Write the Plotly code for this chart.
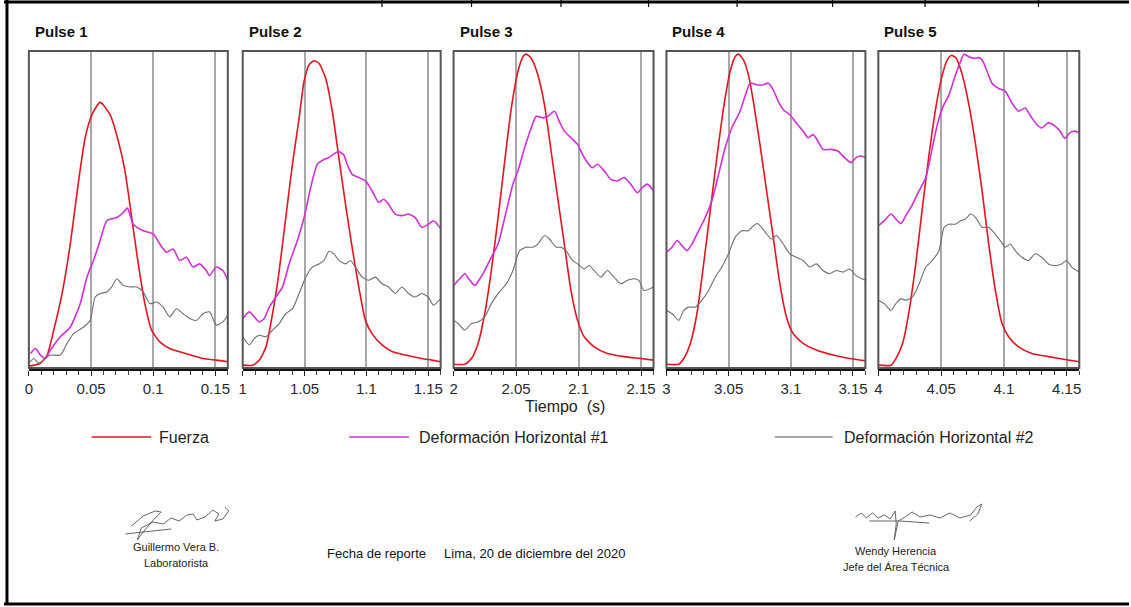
import plotly.graph_objects as go

W, H = 1131, 607

# ---------------- data (normalised signal, 0-100) ----------------
pulse_names = ["Pulse 1", "Pulse 2", "Pulse 3", "Pulse 4", "Pulse 5"]
pulse_start = [0, 1, 2, 3, 4]
tick_labels = [["0", "0.05", "0.1", "0.15"],
               ["1", "1.05", "1.1", "1.15"],
               ["2", "2.05", "2.1", "2.15"],
               ["3", "3.05", "3.1", "3.15"],
               ["4", "4.05", "4.1", "4.15"]]
tick_offsets = [0, 0.05, 0.1, 0.15]
series_names = ["Fuerza", "Deformación Horizontal #1", "Deformación Horizontal #2"]

# Pulse 1
p1_force_t = [0, 0.0093, 0.0147, 0.02, 0.0267, 0.0333, 0.04, 0.0453, 0.0507, 0.0573, 0.0653, 0.072, 0.0773,
              0.0827, 0.088, 0.0933, 0.0987, 0.1053, 0.1133, 0.124, 0.14, 0.1507, 0.16]
p1_force_v = [0.6, 1.5, 4.1, 12, 23.6, 39.3, 59.3, 73, 80.3, 84.2, 80.3, 71.9, 62.5,
              47.7, 33, 20.4, 12, 8.3, 6.2, 4.8, 3, 2.5, 2]
p1_def1_t = [0.0013, 0.0053, 0.0093, 0.0133, 0.0173, 0.0253, 0.0333, 0.0413, 0.0467, 0.052, 0.0573, 0.0627,
             0.0707, 0.076, 0.0792, 0.084, 0.092, 0.1, 0.1053, 0.1107, 0.116, 0.1213, 0.1267, 0.132, 0.1373,
             0.1427, 0.1453, 0.1507, 0.156, 0.16]
p1_def1_v = [4.6, 6.2, 4.1, 3, 5.7, 9.9, 13, 20.4, 28.8, 34.1, 40.4, 46.7,
             47.7, 49.3, 50.7, 45.6, 43.5, 42.5, 39.3, 36.7, 37.7, 34.1, 35.1, 32, 33,
             30.9, 29.3, 32, 30.9, 27.8]
p1_def2_t = [0, 0.004, 0.008, 0.0133, 0.0173, 0.0253, 0.0307, 0.036, 0.044, 0.0493, 0.0533, 0.0573, 0.0627,
             0.0667, 0.0707, 0.076, 0.0813, 0.0867, 0.092, 0.0973, 0.1027, 0.108, 0.1133, 0.1187, 0.124,
             0.1293, 0.1347, 0.14, 0.1453, 0.1507, 0.156, 0.16]
p1_def2_v = [1.5, 3, 1.5, 3, 4.1, 4.1, 7.8, 10.9, 13, 15.1, 22.5, 23.6, 24.1,
             25.7, 28.3, 26.2, 25.7, 25.7, 24.1, 20.4, 20.9, 19.3, 16.2, 18.8, 17.2,
             15.7, 15.1, 17.2, 17.8, 13.6, 14.6, 16.7]

# Pulse 2
p2_force_t = [0, 0.008, 0.0134, 0.0188, 0.0241, 0.0295, 0.0348, 0.0402, 0.0456, 0.0496, 0.0536, 0.0576, 0.0616,
              0.067, 0.0724, 0.0777, 0.0831, 0.0884, 0.0938, 0.0992, 0.1045, 0.1126, 0.1206, 0.1313, 0.1447,
              0.1528, 0.16]
p2_force_v = [0.9, 0.9, 2.5, 6.7, 17.2, 30.9, 47.7, 64.6, 79.3, 90.9, 96.1, 97.4, 96.6,
              91.9, 81.4, 66.7, 51.9, 38.3, 25.7, 15.1, 10.9, 7.3, 5.2, 4.1, 3,
              2.5, 2]
p2_def1_t = [0, 0.0054, 0.0094, 0.0134, 0.0174, 0.0214, 0.0268, 0.0322, 0.0375, 0.0442, 0.0496, 0.0549, 0.0603,
             0.0657, 0.0697, 0.0737, 0.0777, 0.0817, 0.0844, 0.0884, 0.0938, 0.0992, 0.1045, 0.1099, 0.1139,
             0.1179, 0.1233, 0.1287, 0.134, 0.1394, 0.1447, 0.1501, 0.1541, 0.1568, 0.16]
p2_def1_v = [15.7, 17.8, 16.2, 14.6, 15.7, 19.3, 22.5, 25.7, 33, 40.4, 47.7, 57.2, 64.6,
             66.1, 66.7, 67.9, 68.6, 67.5, 64.6, 61.4, 60.4, 59.3, 56.2, 52.5, 53.5,
             51.9, 48.8, 48.3, 48.8, 47.7, 44.6, 45.6, 46.7, 45.8, 44.1]
p2_def2_t = [0, 0.0054, 0.0094, 0.0134, 0.0188, 0.0241, 0.0295, 0.0348, 0.0402, 0.0456, 0.0509, 0.0563, 0.0616,
             0.0657, 0.0697, 0.0737, 0.0777, 0.0831, 0.0871, 0.0911, 0.0965, 0.1018, 0.1072, 0.1126, 0.1179,
             0.1233, 0.1287, 0.134, 0.1394, 0.1447, 0.1501, 0.1541, 0.16]
p2_def2_v = [9.9, 7.3, 9.4, 10.4, 9.9, 12, 14.1, 17.2, 18.8, 23.6, 28.8, 32, 33,
             34.1, 37, 36.2, 34.1, 33, 34.1, 32, 28.8, 27.8, 28.8, 26.7, 25.7,
             23.6, 25.7, 23.6, 22.5, 23.6, 22.5, 19.9, 22]

# Pulse 3
p3_force_t = [0, 0.009, 0.0143, 0.0196, 0.0249, 0.0302, 0.0356, 0.0409, 0.0462, 0.0515, 0.0555, 0.0581, 0.0621,
              0.0674, 0.0727, 0.078, 0.0833, 0.0886, 0.0939, 0.0992, 0.1045, 0.1125, 0.1231, 0.1364, 0.1496, 0.16]
p3_force_v = [1.2, 1.2, 3, 7.8, 17.2, 30.9, 47.7, 65.6, 82.4, 94, 98.7, 99.5, 98.2,
              93, 83.5, 68.8, 54, 39.3, 24.6, 15.1, 9.9, 6.7, 4.6, 3.6, 3, 2.5]
p3_def1_t = [0, 0.005, 0.009, 0.013, 0.017, 0.021, 0.0249, 0.0302, 0.0356, 0.0422, 0.0475, 0.0515, 0.0568,
             0.0621, 0.0661, 0.0714, 0.0754, 0.0807, 0.0846, 0.0886, 0.0939, 0.0992, 0.1032, 0.1072, 0.1112,
             0.1152, 0.1205, 0.1258, 0.1311, 0.1364, 0.1417, 0.147, 0.151, 0.155, 0.16]
p3_def1_v = [26.2, 28.3, 29.9, 27.8, 26.2, 28.3, 30.9, 35.1, 39.3, 49.8, 58.3, 62.5, 69.8,
             76.1, 79.8, 79.3, 79.8, 81.4, 78.2, 75.1, 73, 70.9, 67.7, 65.1, 63.5,
             64.6, 62.5, 59.8, 59.3, 60.4, 58.3, 55.6, 57.2, 58.3, 56.2]
p3_def2_t = [0, 0.0037, 0.009, 0.0143, 0.0196, 0.0249, 0.0302, 0.0356, 0.0422, 0.0475, 0.0528, 0.0581, 0.0634,
             0.0674, 0.0727, 0.0767, 0.082, 0.086, 0.0899, 0.0952, 0.0992, 0.1045, 0.1085, 0.1125, 0.1178,
             0.1231, 0.1284, 0.1337, 0.139, 0.1443, 0.1483, 0.1523, 0.16]
p3_def2_v = [15.1, 14.1, 12, 14.1, 14.6, 16.2, 20.4, 23.6, 26.7, 30.9, 37.2, 38.3, 38.3,
             39.3, 42, 40.9, 38.3, 38.3, 37.2, 34.1, 33, 31.4, 32.5, 30.9, 28.8,
             30.9, 28.8, 26.7, 27.8, 28.3, 27.8, 24.6, 25.7]

# Pulse 4
p4_force_t = [0, 0.0099, 0.0139, 0.0192, 0.0245, 0.0299, 0.0352, 0.0405, 0.0459, 0.0512, 0.0552, 0.0579, 0.0619,
              0.0659, 0.0699, 0.0752, 0.0805, 0.0859, 0.0912, 0.0965, 0.1019, 0.1099, 0.1205, 0.1339, 0.1472, 0.16]
p4_force_v = [1.2, 1.2, 3, 7.8, 17.2, 33, 49.8, 66.7, 82.4, 94, 98.7, 99.5, 97.7,
              93, 84.5, 70.9, 56.2, 41.4, 26.7, 16.2, 10.9, 7.8, 5.7, 4.1, 3, 2.3]
p4_def1_t = [0, 0.0045, 0.0085, 0.0125, 0.0165, 0.0205, 0.0259, 0.0312, 0.0365, 0.0419, 0.0472, 0.0525, 0.0592,
             0.0645, 0.0672, 0.0725, 0.0779, 0.0819, 0.0859, 0.0899, 0.0939, 0.0992, 0.1045, 0.1099, 0.1139,
             0.1179, 0.1219, 0.1259, 0.1325, 0.1379, 0.1432, 0.1485, 0.1525, 0.1565, 0.16]
p4_def1_v = [36.7, 38.3, 40.4, 38.8, 37.2, 39.3, 43.5, 47.7, 53, 61.4, 69.8, 76.1, 81.4,
             87.7, 90.3, 89.8, 89.8, 90.3, 88.2, 84.5, 81.9, 80.3, 77.7, 75.1, 73,
             74, 71.9, 69.3, 69.3, 68.8, 66.7, 65.1, 66.7, 67.2, 66.7]
p4_def2_t = [0, 0.0045, 0.0099, 0.0139, 0.0179, 0.0232, 0.0285, 0.0339, 0.0392, 0.0445, 0.0499, 0.0552, 0.0605,
             0.0659, 0.0699, 0.0731, 0.0765, 0.0805, 0.0845, 0.0885, 0.0939, 0.0992, 0.1045, 0.1099, 0.1152,
             0.1205, 0.1259, 0.1312, 0.1365, 0.1419, 0.1472, 0.1525, 0.16]
p4_def2_v = [18.3, 17.2, 15.1, 18.3, 19.3, 19.3, 21.5, 24.6, 28.8, 32, 36.2, 41.4, 43.5,
             43.5, 45.1, 45.8, 44.6, 42.5, 40.9, 42, 39.3, 36.2, 35.1, 34.1, 32,
             33, 30.9, 29.9, 30.9, 30.4, 31.4, 29.3, 27.8]

# Pulse 5
p5_force_t = [0, 0.01, 0.014, 0.0193, 0.0246, 0.0298, 0.0351, 0.0404, 0.0457, 0.051, 0.0549, 0.0583, 0.062,
              0.0668, 0.0721, 0.0774, 0.0826, 0.0879, 0.0932, 0.0985, 0.1037, 0.1117, 0.1222, 0.1354, 0.1486, 0.16]
p5_force_v = [0.9, 0.9, 3, 7.8, 18.3, 33, 50.9, 67.7, 82.4, 93, 97.7, 99.1, 98.2,
              93, 83.5, 70.9, 56.2, 39.3, 24.6, 14.1, 9.9, 6.7, 4.6, 3.6, 2.7, 2]
p5_def1_t = [0, 0.0048, 0.01, 0.014, 0.018, 0.0219, 0.0272, 0.0325, 0.0378, 0.043, 0.047, 0.051, 0.0562,
             0.0615, 0.0655, 0.0681, 0.0721, 0.076, 0.08, 0.0826, 0.0866, 0.0905, 0.0958, 0.1011, 0.1064,
             0.1117, 0.1169, 0.1222, 0.1262, 0.1301, 0.1354, 0.1407, 0.1447, 0.1486, 0.1526, 0.1565, 0.16]
p5_def1_v = [45.1, 46.7, 48.8, 47.2, 45.8, 48.3, 51.9, 56.2, 60.4, 69.8, 77.2, 82.4, 86.6,
             93, 97.2, 99.5, 98.7, 98.2, 98.4, 97.7, 94, 90.3, 88.6, 87.7, 84,
             81.4, 82.4, 79.3, 77.2, 76.1, 77.7, 76.7, 75.1, 72.8, 74.6, 75.1, 74.6]
p5_def2_t = [0, 0.0048, 0.01, 0.014, 0.018, 0.0219, 0.0272, 0.0325, 0.0378, 0.043, 0.0483, 0.0523, 0.0562,
             0.0615, 0.0655, 0.0694, 0.0734, 0.0774, 0.0826, 0.0879, 0.0919, 0.0971, 0.1011, 0.1051, 0.109,
             0.1143, 0.1196, 0.1249, 0.1301, 0.1354, 0.1407, 0.146, 0.1499, 0.1539, 0.16]
p5_def2_v = [21.5, 20.4, 18.3, 20.4, 22, 21.5, 22.5, 26.7, 32, 34.1, 37.2, 44.6, 45.6,
             45.6, 46.7, 47.2, 48.8, 47.7, 44.6, 44.6, 43, 40.4, 38.3, 39.3, 37.2,
             35.1, 34.1, 36.2, 35.1, 33, 32.5, 33, 34.1, 32, 30.4]

pulse_series = [
    [(p1_force_t, p1_force_v), (p1_def1_t, p1_def1_v), (p1_def2_t, p1_def2_v)],
    [(p2_force_t, p2_force_v), (p2_def1_t, p2_def1_v), (p2_def2_t, p2_def2_v)],
    [(p3_force_t, p3_force_v), (p3_def1_t, p3_def1_v), (p3_def2_t, p3_def2_v)],
    [(p4_force_t, p4_force_v), (p4_def1_t, p4_def1_v), (p4_def2_t, p4_def2_v)],
    [(p5_force_t, p5_force_v), (p5_def1_t, p5_def1_v), (p5_def2_t, p5_def2_v)],
]

# ---------------- styling ----------------
series_colors = ["#e3141e", "#d22fd6", "#6e6e6e"]
series_widths = [1.6, 1.6, 1.1]
FONT = "Liberation Sans, Arial, sans-serif"

panel_px = [(25, 225), (240, 439), (452, 653), (666, 866), (879, 1081)]
top_px, bot_px = 51, 368


def px(x):
    return x / W


def py(y):
    return 1 - y / H


fig = go.Figure()
layout = dict(
    width=W, height=H, margin=dict(l=0, r=0, t=0, b=0),
    paper_bgcolor="white", plot_bgcolor="white", showlegend=False,
    font=dict(family=FONT, size=13, color="#222"),
)
shapes = []
annotations = []

for i in range(5):
    n = "" if i == 0 else str(i + 1)
    xa, ya = "x" + n, "y" + n
    base = pulse_start[i]
    for k, (tt, vv) in enumerate(pulse_series[i]):
        fig.add_trace(go.Scatter(
            x=[base + t for t in tt], y=vv, mode="lines", name=series_names[k],
            line=dict(color=series_colors[k], width=series_widths[k], shape="spline", smoothing=0.6),
            xaxis=xa, yaxis=ya, hoverinfo="skip", legendgroup=series_names[k],
        ))
    l, r = panel_px[i]
    layout["xaxis" + n] = dict(
        domain=[px(l), px(r)], anchor=ya, range=[base, base + 0.16],
        tickvals=[base + o for o in tick_offsets], ticktext=tick_labels[i],
        ticks="outside", ticklen=5, tickwidth=1, tickcolor="#222",
        showgrid=True, gridcolor="#a8a8a8", gridwidth=1.6,
        showline=True, linecolor="#111", linewidth=3,
        zeroline=False, fixedrange=True,
        tickfont=dict(size=15, color="#2a2a2a", family=FONT),
        minor=dict(dtick=0.01, tick0=base, ticks="outside", ticklen=4, tickcolor="#444", showgrid=False),
    )
    layout["yaxis" + n] = dict(
        domain=[py(bot_px), py(top_px)], anchor=xa, range=[0, 100.5],
        showgrid=False, showticklabels=False, ticks="", zeroline=False, showline=False, fixedrange=True,
    )
    # panel frame
    shapes.append(dict(type="rect", xref=xa + " domain", yref=ya + " domain", x0=0, x1=1, y0=0, y1=1,
                       line=dict(color="#555", width=2), layer="above"))
    annotations.append(dict(text="<b>" + pulse_names[i] + "</b>", x=px(l + 4), y=py(31), xref="paper", yref="paper",
                            xanchor="left", yanchor="middle", showarrow=False,
                            font=dict(family=FONT, size=15, color="#111")))

# axis title
annotations.append(dict(text="Tiempo  (s)", x=px(564), y=py(406), xref="paper", yref="paper",
                        xanchor="center", yanchor="middle", showarrow=False,
                        font=dict(family=FONT, size=16, color="#222")))

# legend (drawn)
legend_px = [(88, 148, 154), (347, 407, 415), (775, 833, 842)]
for k, (x0, x1, xt) in enumerate(legend_px):
    shapes.append(dict(type="line", xref="paper", yref="paper", x0=px(x0), x1=px(x1), y0=py(437), y1=py(437),
                       line=dict(color=series_colors[k] if k < 2 else "#888", width=1.3)))
    annotations.append(dict(text=series_names[k], x=px(xt), y=py(437), xref="paper", yref="paper",
                            xanchor="left", yanchor="middle", showarrow=False,
                            font=dict(family=FONT, size=16, color="#222")))

# footer texts
footer = [
    ("Guillermo Vera B.", 173, 547, 11),
    ("Laboratorista", 173, 563, 11),
    ("Wendy Herencia", 897, 551, 11),
    ("Jefe del Área Técnica", 897, 567, 11),
]
for txt, x, y, s in footer:
    annotations.append(dict(text=txt, x=px(x), y=py(y), xref="paper", yref="paper", xanchor="center",
                            yanchor="middle", showarrow=False,
                            font=dict(family="Liberation Sans Narrow, Liberation Sans, Arial", size=s, color="#222")))
annotations.append(dict(text="Fecha de reporte     Lima, 20 de diciembre del 2020", x=px(323), y=py(553),
                        xref="paper", yref="paper", xanchor="left", yanchor="middle", showarrow=False,
                        font=dict(family="Liberation Sans Narrow, Liberation Sans, Arial", size=13, color="#111")))


# signatures (decorative scribbles) in paper pixel space
def sig_path(points):
    s = "M %.4f %.4f" % (px(points[0][0]), py(points[0][1]))
    for (x, y) in points[1:]:
        s += " L %.4f %.4f" % (px(x), py(y))
    return s


sig1 = [(128, 526), (140, 516), (152, 511), (158, 512), (150, 520), (140, 532), (134, 540), (138, 528),
        (150, 522), (160, 524), (168, 518), (176, 521), (184, 515), (190, 514), (194, 520), (202, 517),
        (210, 510), (216, 514), (212, 521), (220, 519), (226, 511), (222, 507)]
sig1b = [(122, 534), (168, 529)]
sig2 = [(856, 517), (862, 513), (867, 518), (873, 513), (879, 518), (885, 515), (891, 519), (896, 511),
        (897, 524), (895, 540), (899, 521), (906, 517), (913, 512), (921, 517), (931, 515), (941, 518),
        (951, 513), (961, 518), (972, 515), (978, 507), (983, 504), (979, 514), (971, 521)]
sig2b = [(870, 521), (900, 521), (930, 523)]
for sg in (sig1, sig1b, sig2, sig2b):
    shapes.append(dict(type="path", path=sig_path(sg), xref="paper", yref="paper",
                       line=dict(color="#555", width=0.9)))

# page border
border = dict(color="#000", width=3)
shapes.append(dict(type="line", xref="paper", yref="paper", x0=0, x1=1, y0=py(2), y1=py(2), line=border))
shapes.append(dict(type="line", xref="paper", yref="paper", x0=px(3), x1=px(3), y0=py(0), y1=py(605), line=border))
shapes.append(dict(type="line", xref="paper", yref="paper", x0=0, x1=1, y0=py(604), y1=py(604), line=border))
for xd in [380, 470, 560, 648, 737, 833, 926, 1040]:
    shapes.append(dict(type="line", xref="paper", yref="paper", x0=px(xd), x1=px(xd), y0=py(0), y1=py(7),
                       line=dict(color="#000", width=1.2)))

layout["shapes"] = shapes
layout["annotations"] = annotations
fig.update_layout(**layout)
fig.write_html("out.html")
